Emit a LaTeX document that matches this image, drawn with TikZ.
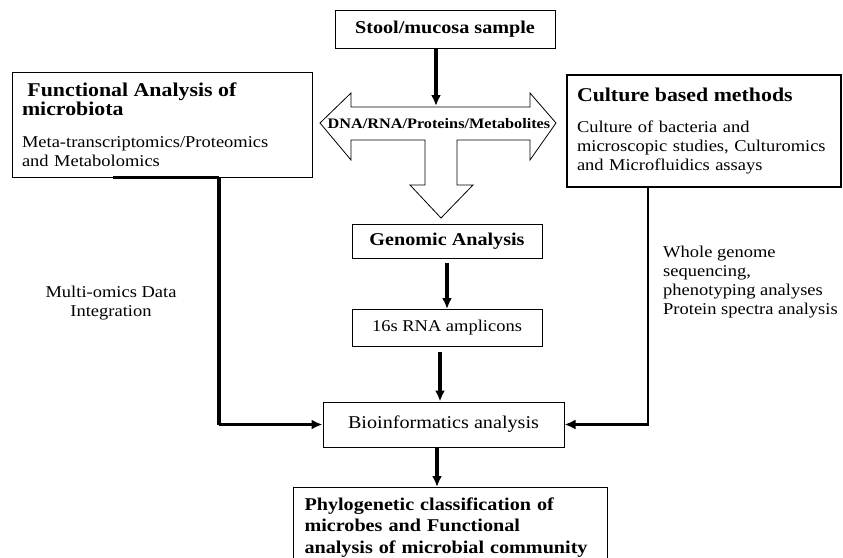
\documentclass[tikz,border=0pt]{standalone}
\usepackage{fontspec}
\setmainfont{Liberation Serif}[FakeStretch=1.12]
\usetikzlibrary{arrows.meta, positioning, calc}

\begin{document}
\begin{tikzpicture}[x=1pt, y=-1pt,
    block/.style={draw, line width=1pt, minimum width=190pt, minimum height=34pt, inner sep=2pt, font=\fontsize{16.5}{19.5}\selectfont},
    bblock/.style={block, font=\fontsize{18}{21}\selectfont\bfseries},
    side/.style={draw, line width=1pt, align=left, inner xsep=10pt, inner ysep=6pt, font=\fontsize{16.5}{19}\selectfont},
    lbl/.style={font=\fontsize{16.5}{19}\selectfont},
    arr/.style={-{Latex[length=11pt,width=10pt]}, line width=3.2pt},
    conn/.style={-{Latex[length=11pt,width=10pt]}, line width=2.8pt}
]
\useasboundingbox (0,0) rectangle (843,557);

% central chain
\node[bblock, minimum width=220pt, minimum height=38pt] (stool) at (445,29) {Stool/mucosa sample};
\node[bblock] (genomic) at (447,241.5) {Genomic Analysis};
\node[block, minimum height=37pt] (amplicons) at (447,328) {16s RNA amplicons};
\node[block, minimum width=241pt, minimum height=45pt, font=\fontsize{18}{21}\selectfont] (bioinfo) at (443.5,424.5) {Bioinformatics analysis};
\node[draw, line width=1pt, align=left, anchor=north west, text width=292pt, inner xsep=11pt, inner ysep=6pt,
      minimum height=80pt, font=\fontsize{18}{21.5}\selectfont\bfseries] (result) at (293,487)
      {Phylogenetic classification of\\microbes and Functional\\analysis of microbial community};

% side boxes
\node[side, text width=280pt, minimum width=300pt, minimum height=105pt] (func) at (162,124.5)
    {{\fontsize{19.5}{22}\selectfont\bfseries\ Functional Analysis of\\microbiota}\\[13pt]
     Meta-transcriptomics/Proteomics\\and Metabolomics};
\node[side, line width=2pt, text width=254pt, minimum width=274pt, minimum height=112pt] (culture) at (704,131)
    {{\fontsize{19.5}{22}\selectfont\bfseries Culture based methods}\\[12pt]
     Culture of bacteria and\\microscopic studies, Culturomics\\and Microfluidics assays};

% outline arrow
\draw[line width=0.8pt] (320,123) -- (351,93) -- (351,107) -- (530,107) -- (530,93) -- (556,123)
    -- (530,160) -- (530,140) -- (457,140) -- (457,185) -- (473,185) -- (441,218) -- (410,185)
    -- (425,185) -- (425,140) -- (351,140) -- (351,160) -- cycle;
\node[font=\fontsize{14.5}{17}\selectfont\bfseries, inner sep=1pt] (mol) at (439,123.5) {DNA/RNA/Proteins/Metabolites};

% arrows
\draw[arr] ([xshift=-9pt]stool.south) -- ([xshift=-9pt]stool.south |- 0,106);
\draw[arr] ([yshift=-4pt]genomic.south) -- (amplicons.north);
\draw[arr] ([xshift=-7pt, yshift=-5pt]amplicons.south) -- ([xshift=-3.5pt]bioinfo.north);
\draw[arr] ([xshift=-6.5pt]bioinfo.south) -- ([xshift=-6.5pt]bioinfo.south |- result.north);

% side connectors
\draw[line width=3.4pt] ([xshift=-49pt]func.south) -- ([xshift=57pt]func.south);
\draw[line width=3.4pt] ([xshift=57pt]func.south) -- ([xshift=57pt]func.south |- bioinfo.west);
\draw[conn] ([xshift=57pt]func.south |- bioinfo.west) -- (bioinfo.west);
\draw[conn] ([xshift=-56pt]culture.south) |- (bioinfo.east);

% labels
\node[lbl, align=center] (omics) at (111,303) {Multi-omics Data\\Integration};
\node[lbl, align=left, anchor=north west, inner sep=0pt] (wgs) at (663,246)
    {Whole genome\\sequencing,\\phenotyping analyses\\Protein spectra analysis};
\end{tikzpicture}
\end{document}
